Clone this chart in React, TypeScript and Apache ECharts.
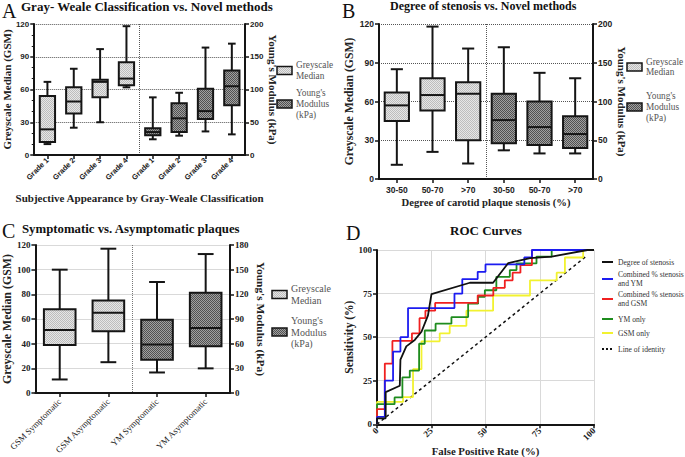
import React, { useEffect, useRef } from 'react';
import * as echarts from 'echarts';

const SERIF = 'Liberation Serif';
const SANS = 'Liberation Sans';
const INK = '#151515';

// Box values: [min, Q1, median, Q3, max]
const gradeCats = ['Grade 1', 'Grade 2', 'Grade 3', 'Grade 4', 'Grade 1', 'Grade 2', 'Grade 3', 'Grade 4'];
const gradeGSM = [[10, 12, 23.5, 54, 67], [25, 38, 49, 62, 79], [30, 53, 67, 69, 97], [62, 64, 70, 85, 118]];
const gradeYM = [[24, 30, 35, 41, 88], [29.5, 35, 56, 79, 95], [36, 55, 67, 101, 164], [31.5, 76, 105, 129, 170]];

const stenosisCats = ['30-50', '50-70', '>70', '30-50', '50-70', '>70'];
const stenosisGSM = [[11, 45, 57, 67, 85], [21, 53, 65, 78, 118], [12, 30, 66, 75, 101]];
const stenosisYM = [[37, 46, 76, 110, 170], [33, 44, 67, 100, 137], [33, 40, 58, 81, 130]];

const symptomCats = ['GSM Symptomatic', 'GSM Asymptomatic', 'YM Symptomatic', 'YM Asymptomatic'];
const symptomGSM = [[11, 39, 51, 68, 100], [25, 50, 65, 75, 117]];
const symptomYM = [[25, 40.5, 59, 89, 135], [30, 57, 79, 122, 169]];

// ROC points [FPR %, sensitivity %]
const rocStenosis = [[0, 0], [0, 3.4], [4, 3.4], [4, 18.4], [10.5, 22.1], [10.8, 37.1], [13.5, 44.7], [17.4, 48.4], [20.5, 53.1], [23.5, 62.5], [25.1, 74.7], [42.8, 81.2], [53.5, 81.2], [60.5, 92.5], [70.5, 95.3], [80.5, 96.2], [97, 100], [100, 100]];
const rocStenosisYM = [[0, 0], [0, 4.2], [3.6, 25], [7.4, 41.7], [10.8, 50], [14.3, 66.7], [35.7, 75], [39.3, 83.3], [46.4, 87.5], [50, 91.7], [67.9, 95.8], [71.4, 100], [100, 100]];
const rocStenosisGSM = [[0, 0], [0, 8.7], [3.6, 34.8], [7.1, 47.8], [16.1, 52.2], [19.6, 60.9], [22.3, 65.2], [26.8, 69.6], [46.4, 73.9], [53.6, 78.3], [58.9, 82.6], [62.5, 87], [66.1, 91.3], [71.4, 100], [100, 100]];
const rocYM = [[0, 0], [0, 11.5], [8.1, 15.4], [11.7, 26.9], [15.1, 30.8], [19.4, 46.2], [22, 53.8], [27, 57.7], [34.3, 61.5], [42, 69.2], [46.6, 73.1], [49.7, 76.9], [55, 84.6], [61.2, 88.5], [64.3, 92.3], [73.5, 96.2], [80.5, 100], [100, 100]];
const rocGSM = [[0, 0], [0, 12.8], [12, 15.6], [16.6, 31.6], [20.5, 47.6], [28.9, 52.2], [33.5, 56.5], [41.2, 65.2], [53.5, 73.9], [70.5, 82.6], [82.8, 87], [86.6, 95.7], [95, 100], [100, 100]];
const rocIdentity = [[0, 0], [96, 96]];

const rocNames = ['Degree of stenosis', 'Combined % stenosis\nand YM', 'Combined % stenosis\nand GSM', 'YM only', 'GSM only', 'Line of identity'];
const rocColors = ['#111111', '#1c1cf0', '#f02020', '#1e8c1e', '#f2f230', '#111111'];

function makePattern(a: string, b: string): any {
  const c = document.createElement('canvas');
  c.width = 2;
  c.height = 2;
  const ctx = c.getContext('2d')!;
  ctx.fillStyle = a;
  ctx.fillRect(0, 0, 2, 2);
  ctx.fillStyle = b;
  ctx.fillRect(0, 0, 1, 1);
  ctx.fillRect(1, 1, 1, 1);
  return { image: c.toDataURL(), repeat: 'repeat', imageWidth: 2, imageHeight: 2 };
}

function boxRenderer(fill: any, ratio: number) {
  return (_params: any, api: any) => {
    const idx = api.value(0);
    const lo = api.coord([idx, api.value(1)]);
    const q1 = api.coord([idx, api.value(2)]);
    const md = api.coord([idx, api.value(3)]);
    const q3 = api.coord([idx, api.value(4)]);
    const hi = api.coord([idx, api.value(5)]);
    const band = api.size([1, 0])[0];
    const bw = band * ratio;
    const cw = bw * 0.5;
    const cx = md[0];
    const ls = { stroke: INK, lineWidth: 2 };
    return {
      type: 'group',
      children: [
        { type: 'line', shape: { x1: cx, y1: hi[1], x2: cx, y2: q3[1] }, style: ls },
        { type: 'line', shape: { x1: cx, y1: q1[1], x2: cx, y2: lo[1] }, style: ls },
        { type: 'line', shape: { x1: cx - cw / 2, y1: hi[1], x2: cx + cw / 2, y2: hi[1] }, style: ls },
        { type: 'line', shape: { x1: cx - cw / 2, y1: lo[1], x2: cx + cw / 2, y2: lo[1] }, style: ls },
        { type: 'rect', shape: { x: cx - bw / 2, y: q3[1], width: bw, height: q1[1] - q3[1] }, style: { fill, stroke: INK, lineWidth: 2 } },
        { type: 'line', shape: { x1: cx - bw / 2, y1: md[1], x2: cx + bw / 2, y2: md[1] }, style: ls },
      ],
    };
  };
}

const tickLabel = (size: number, family = SANS) => ({ fontSize: size, fontWeight: 'bold' as const, fontFamily: family, color: '#222' });
const nameStyle = (size: number) => ({ fontSize: size, fontWeight: 'bold' as const, fontFamily: SERIF, color: '#222' });
const axisLine = { show: true, lineStyle: { color: INK, width: 2 } };
const axisTick = { show: true, length: 4, lineStyle: { color: INK, width: 1.5 } };

function dividerAxis(gridIndex: number, color: string) {
  return {
    type: 'category', gridIndex, position: 'top', data: ['', ''],
    axisLine: { show: false }, axisTick: { show: false }, axisLabel: { show: false },
    splitLine: { show: true, showMinLine: false, showMaxLine: false, lineStyle: { type: 'dotted', color, width: 1 } },
  };
}

function boxSeries(name: string, rows: number[][], offset: number, xi: number, yi: number, fill: any, ratio: number) {
  return {
    type: 'custom', name, xAxisIndex: xi, yAxisIndex: yi,
    renderItem: boxRenderer(fill, ratio),
    encode: { x: 0, y: [1, 2, 3, 4, 5] },
    data: rows.map((r, i) => [i + offset, ...r]),
  };
}

function legendBlock(x: number, y1: number, y2: number, size: number, light: any, dark: any) {
  const t = { fontSize: size, fontFamily: SERIF, fill: '#555', lineHeight: size + 1.6, verticalAlign: 'middle' as const };
  return [
    { type: 'rect', shape: { x, y: y1 - 4, width: 15, height: 8 }, style: { fill: light, stroke: INK, lineWidth: 1.5 } },
    { type: 'text', x: x + 19, y: y1, style: { ...t, text: 'Greyscale\nMedian' } },
    { type: 'rect', shape: { x, y: y2 - 4, width: 15, height: 8 }, style: { fill: dark, stroke: INK, lineWidth: 1.5 } },
    { type: 'text', x: x + 19, y: y2, style: { ...t, text: "Young's\nModulus\n(kPa)" } },
  ];
}

export default function App() {
  const ref = useRef<HTMLDivElement>(null);
  useEffect(() => {
    if (!ref.current) return;
    const chart = echarts.init(ref.current, null, { renderer: 'svg' });
    const LIGHT = makePattern('#e6e6e6', '#bdbdbd');
    const DARK = makePattern('#a0a0a0', '#515151');

    const rocData = [rocStenosis, rocStenosisYM, rocStenosisGSM, rocYM, rocGSM, rocIdentity];
    const rocSeries = rocData.map((d, i) => ({
      type: 'line', name: rocNames[i], xAxisIndex: 6, yAxisIndex: 6, data: d,
      showSymbol: false, symbol: 'none', step: i >= 1 && i <= 4 ? 'end' : false,
      lineStyle: { color: rocColors[i], width: i === 5 ? 1.5 : 1.8, type: i === 5 ? [3, 3] : 'solid' },
      z: i === 5 ? 1 : 6 - i,
    }));

    const legendY = [262, 279, 299, 319, 333, 349];
    const rocLegend: any[] = [];
    rocNames.forEach((n, i) => {
      rocLegend.push({ type: 'line', shape: { x1: 602, y1: legendY[i], x2: 613, y2: legendY[i] }, style: { stroke: rocColors[i], lineWidth: 2, lineDash: i === 5 ? [2, 2] : null } });
      rocLegend.push({ type: 'text', x: 618, y: legendY[i], style: { text: n, fontSize: 7.6, fontFamily: SERIF, fill: '#333', lineHeight: 9, verticalAlign: 'middle' } });
    });

    const letter = (t: string, x: number, y: number) => ({ type: 'text', x, y, style: { text: t, fontSize: 20, fontFamily: SERIF, fill: '#111' } });

    chart.setOption({
      animation: false,
      backgroundColor: '#fff',
      title: [
        { text: 'Gray- Weale Classification vs. Novel methods', left: 21, top: 0, padding: 0, textStyle: { fontFamily: SERIF, fontWeight: 'bold', fontSize: 13, color: '#111' } },
        { text: 'Degree of stenosis vs. Novel methods', left: 390, top: 0, padding: 0, textStyle: { fontFamily: SERIF, fontWeight: 'bold', fontSize: 12, color: '#111' } },
        { text: 'Symptomatic vs. Asymptomatic plaques', left: 22, top: 222, padding: 0, textStyle: { fontFamily: SERIF, fontWeight: 'bold', fontSize: 12.8, color: '#111' } },
        { text: 'ROC Curves', left: 450, top: 224, padding: 0, textStyle: { fontFamily: SERIF, fontWeight: 'bold', fontSize: 13, color: '#111' } },
      ],
      grid: [
        { left: 31, top: 24, width: 214, height: 131 },
        { left: 379, top: 24, width: 214, height: 155 },
        { left: 32, top: 245, width: 198, height: 153 },
        { left: 377, top: 250, width: 217, height: 178 },
      ],
      xAxis: [
        { type: 'category', gridIndex: 0, data: gradeCats, axisLine, axisTick: { ...axisTick, alignWithLabel: true },
          axisLabel: { ...tickLabel(7.5), rotate: 45, interval: 0, margin: 4 },
          name: 'Subjective Appearance by Gray-Weale Classification', nameLocation: 'middle', nameGap: 37, nameTextStyle: nameStyle(11) },
        dividerAxis(0, '#555'),
        { type: 'category', gridIndex: 1, data: stenosisCats, axisLine, axisTick: { ...axisTick, alignWithLabel: true },
          axisLabel: { ...tickLabel(8.5), interval: 0, margin: 6 },
          name: 'Degree of carotid plaque stenosis (%)', nameLocation: 'middle', nameGap: 18, nameTextStyle: nameStyle(10.6) },
        dividerAxis(1, '#555'),
        { type: 'category', gridIndex: 2, data: symptomCats, axisLine, axisTick: { ...axisTick, alignWithLabel: true },
          axisLabel: { fontSize: 8.8, fontFamily: SERIF, color: '#222', rotate: 45, interval: 0, margin: 7 } },
        dividerAxis(2, '#777'),
        { type: 'value', gridIndex: 3, min: 0, max: 100, interval: 25, axisLine, axisTick,
          axisLabel: { ...tickLabel(9, SERIF), rotate: 45, margin: 5 },
          splitLine: { show: true, lineStyle: { color: '#d9d9d9', width: 1 } },
          name: 'False Positive Rate (%)', nameLocation: 'middle', nameGap: 17, nameTextStyle: nameStyle(10.8) },
      ],
      yAxis: [
        { type: 'value', gridIndex: 0, min: 0, max: 120, interval: 30, position: 'left', axisLine, axisTick,
          minorTick: { show: true, splitNumber: 3, length: 2.5, lineStyle: { color: INK, width: 1 } },
          axisLabel: { ...tickLabel(8), margin: 5 },
          splitLine: { show: true, lineStyle: { type: 'dotted', color: '#555', width: 1 } },
          name: 'Greyscale Median (GSM)', nameLocation: 'middle', nameGap: 17, nameTextStyle: nameStyle(11) },
        { type: 'value', gridIndex: 0, min: 0, max: 200, interval: 50, position: 'right', axisLine, axisTick,
          axisLabel: { ...tickLabel(8), margin: 5 }, splitLine: { show: false },
          name: "Young's Modulus (kPa)", nameLocation: 'middle', nameRotate: -90, nameGap: 17, nameTextStyle: nameStyle(11) },
        { type: 'value', gridIndex: 1, min: 0, max: 120, interval: 30, position: 'left', axisLine, axisTick,
          axisLabel: { ...tickLabel(8.5), margin: 5 },
          splitLine: { show: true, lineStyle: { type: 'dotted', color: '#555', width: 1 } },
          name: 'Greyscale Median (GSM)', nameLocation: 'middle', nameGap: 19, nameTextStyle: nameStyle(11.7) },
        { type: 'value', gridIndex: 1, min: 0, max: 200, interval: 50, position: 'right', axisLine, axisTick,
          axisLabel: { ...tickLabel(8.5), margin: 5 }, splitLine: { show: false },
          name: "Young's Modulus (kPa)", nameLocation: 'middle', nameRotate: -90, nameGap: 19, nameTextStyle: nameStyle(11) },
        { type: 'value', gridIndex: 2, min: 0, max: 120, interval: 20, position: 'left', axisLine, axisTick,
          axisLabel: { ...tickLabel(9, SERIF), margin: 5 },
          splitLine: { show: true, lineStyle: { color: '#d9d9d9', width: 1 } },
          name: 'Greyscale Median (GSM)', nameLocation: 'middle', nameGap: 19, nameTextStyle: nameStyle(11.9) },
        { type: 'value', gridIndex: 2, min: 0, max: 180, interval: 30, position: 'right', axisLine, axisTick,
          axisLabel: { ...tickLabel(9, SERIF), margin: 5 }, splitLine: { show: false },
          name: "Young's Modulus (kPa)", nameLocation: 'middle', nameRotate: -90, nameGap: 25, nameTextStyle: nameStyle(11.4) },
        { type: 'value', gridIndex: 3, min: 0, max: 100, interval: 25, position: 'left', axisLine, axisTick,
          axisLabel: { ...tickLabel(9, SERIF), margin: 5 },
          splitLine: { show: true, lineStyle: { color: '#d9d9d9', width: 1 } },
          name: 'Sensitivity (%)', nameLocation: 'middle', nameGap: 19, nameTextStyle: nameStyle(11.5) },
      ],
      series: [
        boxSeries('Greyscale Median', gradeGSM, 0, 0, 0, LIGHT, 0.58),
        boxSeries("Young's Modulus", gradeYM, gradeGSM.length, 0, 1, DARK, 0.58),
        boxSeries('Greyscale Median', stenosisGSM, 0, 2, 2, LIGHT, 0.68),
        boxSeries("Young's Modulus", stenosisYM, stenosisGSM.length, 2, 3, DARK, 0.68),
        boxSeries('Greyscale Median', symptomGSM, 0, 4, 4, LIGHT, 0.65),
        boxSeries("Young's Modulus", symptomYM, symptomGSM.length, 4, 5, DARK, 0.65),
        ...rocSeries,
      ],
      graphic: [
        letter('A', 2, 1),
        letter('B', 342, 1),
        letter('C', 2, 221),
        letter('D', 346, 223),
        ...legendBlock(277, 70.5, 104, 9.3, LIGHT, DARK),
        ...legendBlock(627, 67, 107, 9.3, LIGHT, DARK),
        ...legendBlock(272, 294.5, 332, 10, LIGHT, DARK),
        ...rocLegend,
      ],
    });
    return () => chart.dispose();
  }, []);
  return <div ref={ref} style={{ position: 'absolute', left: 0, top: 0, width: 685, height: 457, background: '#fff' }} />;
}
